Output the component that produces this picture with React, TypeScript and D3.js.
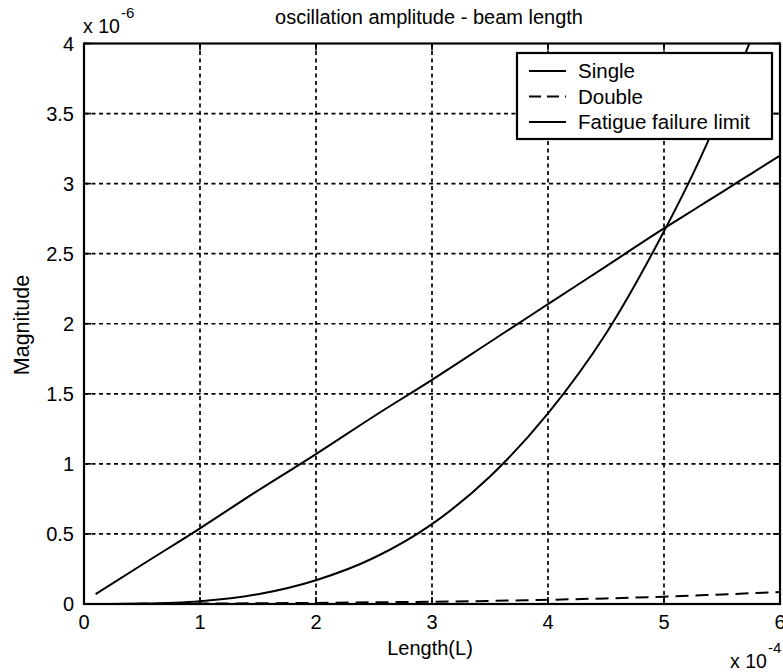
import React from 'react';
import * as d3 from 'd3';

// lengths in units of 1e-4, magnitudes in units of 1e-6
const lengths = [0.1, 0.5, 1, 1.5, 2, 2.5, 3, 3.5, 4, 4.5, 5, 5.25, 5.5, 5.75, 6];
const single = [0.0, 0.003, 0.02, 0.07, 0.17, 0.33, 0.57, 0.91, 1.36, 1.93, 2.66, 3.07, 3.53, 4.03, 4.58];
const double = [0.0, 0.001, 0.003, 0.005, 0.008, 0.012, 0.016, 0.022, 0.03, 0.04, 0.052, 0.06, 0.068, 0.077, 0.086];
const fatigue = [0.07, 0.28, 0.54, 0.81, 1.07, 1.34, 1.6, 1.87, 2.14, 2.41, 2.68, 2.81, 2.94, 3.07, 3.2];

const xTicks = [0, 1, 2, 3, 4, 5, 6];
const yTicks = [0, 0.5, 1, 1.5, 2, 2.5, 3, 3.5, 4];
const legendNames = ['Single', 'Double', 'Fatigue failure limit'];

const W = 783;
const H = 672;
const left = 84, right = 780, top = 43.5, bottom = 604;
const font = 'Liberation Sans, Arial, sans-serif';

export default function App() {
  const x = d3.scaleLinear().domain([0, 6]).range([left, right]);
  const y = d3.scaleLinear().domain([0, 4]).range([bottom, top]);

  const line = d3.line<number>()
    .x((d, i) => x(lengths[i]))
    .y(d => y(d))
    .curve(d3.curveMonotoneX);

  const series = [
    { vals: single, dash: null },
    { vals: double, dash: '13,7' },
    { vals: fatigue, dash: null },
  ];

  return (
    <svg width={W} height={H} style={{ position: 'absolute', left: 0, top: 0, background: '#fff' }}
      fontFamily={font}>
      <defs>
        <clipPath id="plot">
          <rect x={left} y={top} width={right - left} height={bottom - top} />
        </clipPath>
      </defs>

      {/* grid */}
      <g stroke="#000" strokeWidth={1.7} strokeDasharray="4,3.5">
        {xTicks.slice(1, -1).map(t => (
          <line key={'gx' + t} x1={x(t)} x2={x(t)} y1={top} y2={bottom} />
        ))}
        {yTicks.slice(1, -1).map(t => (
          <line key={'gy' + t} x1={left} x2={right} y1={y(t)} y2={y(t)} />
        ))}
      </g>

      {/* curves */}
      <g clipPath="url(#plot)" fill="none" stroke="#000" strokeWidth={2}>
        {series.map((s, i) => (
          <path key={i} d={line(s.vals) || ''} strokeDasharray={s.dash || undefined} />
        ))}
      </g>

      {/* box and ticks */}
      <rect x={left} y={top} width={right - left} height={bottom - top} fill="none" stroke="#000" strokeWidth={2.2} />
      <g stroke="#000" strokeWidth={1.7}>
        {xTicks.map(t => (
          <g key={'tx' + t}>
            <line x1={x(t)} x2={x(t)} y1={bottom} y2={bottom - 7} />
            <line x1={x(t)} x2={x(t)} y1={top} y2={top + 7} />
          </g>
        ))}
        {yTicks.map(t => (
          <g key={'ty' + t}>
            <line x1={left} x2={left + 7} y1={y(t)} y2={y(t)} />
            <line x1={right} x2={right - 7} y1={y(t)} y2={y(t)} />
          </g>
        ))}
      </g>

      {/* tick labels */}
      <g fontSize={20} fill="#000">
        {xTicks.map(t => (
          <text key={'lx' + t} x={x(t)} y={629} textAnchor="middle">{t}</text>
        ))}
        {yTicks.map(t => (
          <text key={'ly' + t} x={left - 10} y={y(t) + 7} textAnchor="end">{t}</text>
        ))}
      </g>

      {/* exponents */}
      <text x={83} y={33} fontSize={19.5}>x 10</text>
      <text x={121} y={18} fontSize={15}>-6</text>
      <text x={730} y={668} fontSize={19.5}>x 10</text>
      <text x={768} y={653} fontSize={15}>-4</text>

      {/* titles */}
      <text x={429} y={24} fontSize={20} textAnchor="middle">oscillation amplitude - beam length</text>
      <text x={430} y={655} fontSize={20} textAnchor="middle">Length(L)</text>
      <text transform="translate(29,325) rotate(-90)" fontSize={21.5} textAnchor="middle">Magnitude</text>

      {/* legend */}
      <g>
        <rect x={517} y={53} width={255} height={86} fill="#fff" stroke="#000" strokeWidth={2.2} />
        {legendNames.map((n, i) => {
          const ly = 71 + i * 25.5;
          return (
            <g key={n}>
              <line x1={529} x2={566} y1={ly} y2={ly} stroke="#000" strokeWidth={2}
                strokeDasharray={series[i].dash ? '12,6' : undefined} />
              <text x={578} y={ly + 7} fontSize={20.5}>{n}</text>
            </g>
          );
        })}
      </g>
    </svg>
  );
}
